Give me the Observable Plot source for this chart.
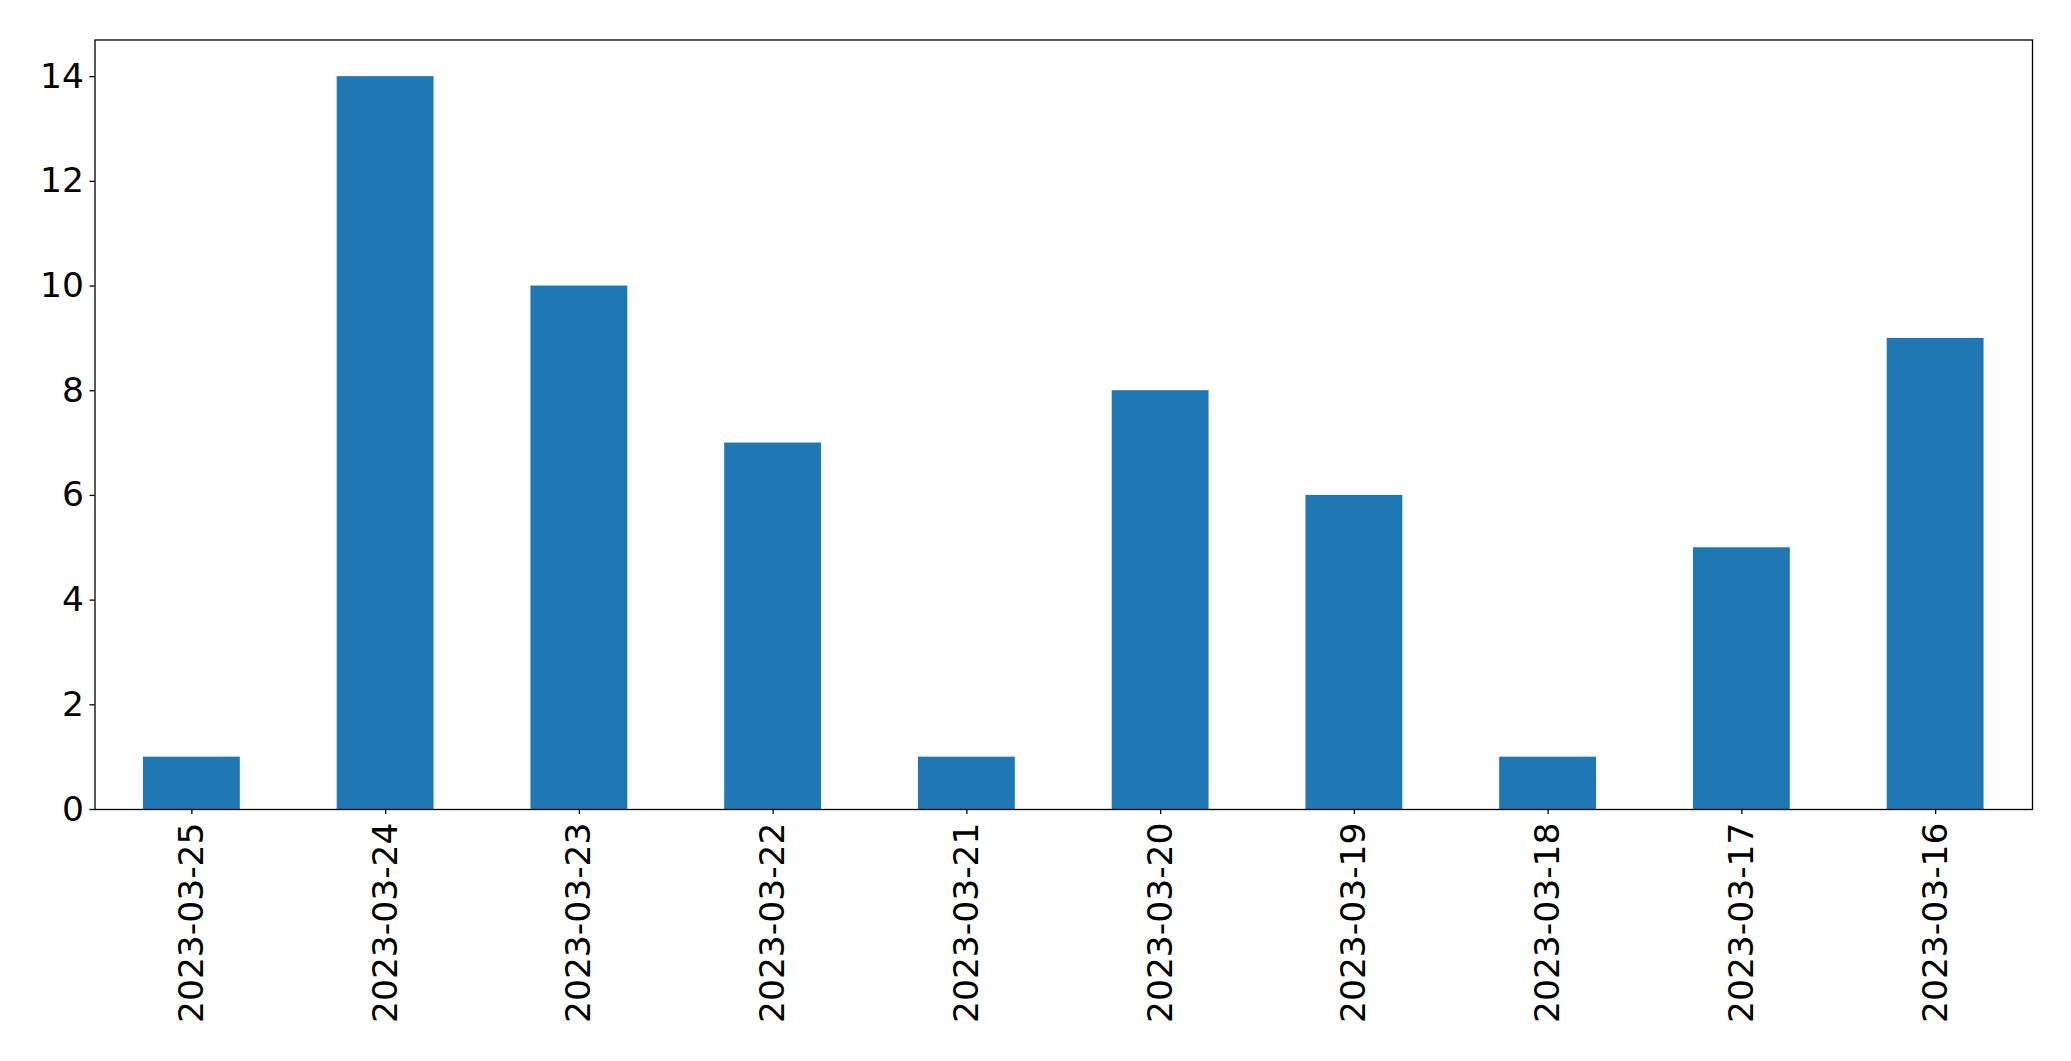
<!DOCTYPE html>
<html>
<head>
<meta charset="utf-8">
<script src="https://cdn.jsdelivr.net/npm/d3@7"></script>
<script src="https://cdn.jsdelivr.net/npm/@observablehq/plot@0.6"></script>
<style>
  html, body { margin: 0; padding: 0; background: #fff; }
</style>
</head>
<body>
<div id="chart"></div>
<script>
const dates = ["2023-03-25","2023-03-24","2023-03-23","2023-03-22","2023-03-21","2023-03-20","2023-03-19","2023-03-18","2023-03-17","2023-03-16"];
const counts = [1, 14, 10, 7, 1, 8, 6, 1, 5, 9];
const yTicks = [0, 2, 4, 6, 8, 10, 12, 14];

const data = dates.map((d, i) => ({date: d, count: counts[i]}));

const chart = Plot.plot({
  width: 2071,
  height: 1061,
  marginLeft: 94.5,
  marginRight: 39,
  marginTop: 39.5,
  marginBottom: 252,
  style: {fontFamily: "DejaVu Sans", fontSize: "34.5px", background: "#fff", color: "#000"},
  x: {domain: dates, paddingInner: 0.5, paddingOuter: 0.25, round: false, label: null},
  y: {domain: [0, 14.7], label: null},
  marks: [
    Plot.barY(data, {x: "date", y: "count", fill: "#1f77b4"}),
    Plot.frame({stroke: "#000", strokeWidth: 1.3}),
    Plot.axisY({ticks: yTicks, tickSize: 5, tickPadding: 6, fontSize: 34.5, label: null, strokeWidth: 1.3}),
    Plot.axisX({tickSize: 5, tickPadding: 8, tickRotate: -90, fontSize: 34.5, label: null, strokeWidth: 1.3})
  ]
});
document.getElementById("chart").appendChild(chart);
</script>
</body>
</html>
